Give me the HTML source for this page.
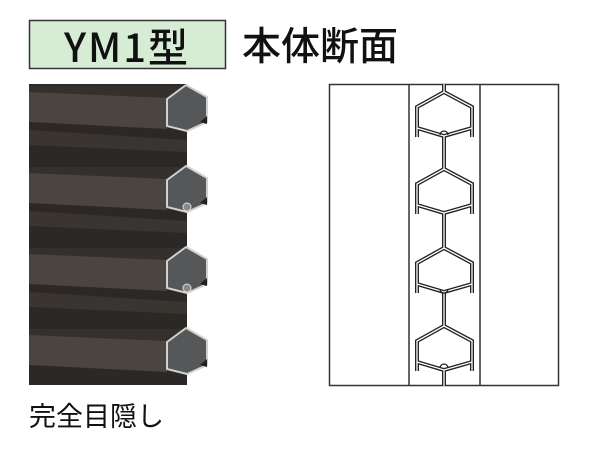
<!DOCTYPE html>
<html><head><meta charset="utf-8"><style>
html,body{margin:0;padding:0;background:#fff;}
body{width:600px;height:450px;overflow:hidden;position:relative;font-family:"Liberation Sans","Noto Sans CJK JP",sans-serif;}
</style></head><body>
<svg width="600" height="450" viewBox="0 0 600 450" xmlns="http://www.w3.org/2000/svg" style="position:absolute;left:0;top:0">
<rect x="29.5" y="20.5" width="196" height="48" fill="#d6ecd5" stroke="#333" stroke-width="1.5"/>
<text x="127" y="62" text-anchor="middle" font-family="'Noto Sans CJK JP',sans-serif" font-weight="500" font-size="40" fill="#111" letter-spacing="2">YM1型</text>
<text x="242" y="60" font-family="'Noto Sans CJK JP',sans-serif" font-size="39" font-weight="500" fill="#111">本体断面</text>
<text x="29" y="426" font-family="'Noto Sans CJK JP',sans-serif" font-size="27" fill="#111">完全目隠し</text>

<rect x="29" y="84" width="158" height="301" fill="#2c2825"/>
<g>
<g>
 <polygon points="29,86 186,86 167,98 29,92" fill="#35302c"/>
 <polygon points="29,92 167,98 167,129 29,122" fill="#4a4541"/>
 <polygon points="29,130 187,140 187,152 29,145" fill="#3a3531"/>
</g>
<g transform="translate(0,81)">
 <polygon points="29,86 186,86 167,98 29,92" fill="#35302c"/>
 <polygon points="29,92 167,98 167,129 29,122" fill="#4a4541"/>
 <polygon points="29,130 187,140 187,152 29,145" fill="#3a3531"/>
</g>
<g transform="translate(0,162)">
 <polygon points="29,86 186,86 167,98 29,92" fill="#35302c"/>
 <polygon points="29,92 167,98 167,129 29,122" fill="#4a4541"/>
 <polygon points="29,130 187,140 187,152 29,145" fill="#3a3531"/>
</g>
<g transform="translate(0,243)">
 <polygon points="29,86 186,86 167,98 29,92" fill="#35302c"/>
 <polygon points="29,92 167,98 167,129 29,122" fill="#4a4541"/>
</g>
</g>
<g fill="#555759" stroke="#d0d0d0" stroke-width="2" stroke-linejoin="round">
 <polygon points="167,99 186,85 207,97 207,122 187,131 167,126"/>
 <polygon points="167,180 186,166 207,178 207,203 187,212 167,207"/>
 <polygon points="167,261 186,247 207,259 207,284 187,293 167,288"/>
 <polygon points="167,342 186,328 207,340 207,365 187,374 167,369"/>
</g>
<g fill="#222">
 <polygon points="200,122 207,116 207,124"/>
 <polygon points="200,203 207,197 207,205"/>
 <polygon points="200,284 207,278 207,286"/>
 <polygon points="200,365 207,359 207,367"/>
</g>
<circle cx="187" cy="207" r="4" fill="#888" stroke="#ddd"/>
<circle cx="187" cy="288" r="4" fill="#888" stroke="#ddd"/>

<rect x="329.5" y="84.5" width="229" height="301" fill="none" stroke="#333" stroke-width="1.5"/>
<line x1="409" y1="84" x2="409" y2="386" stroke="#333" stroke-width="1.5"/>
<line x1="480" y1="84" x2="480" y2="386" stroke="#333" stroke-width="1.5"/>
<g fill="none" stroke-linejoin="miter">
 <g stroke="#222" stroke-width="4">
  <path d="M444,84 V92 M417,137 V107 L444,92 L472,107 V137 M417,128 L444,136 L472,128"/>
  <path d="M444,136 V169 M417,214 V184 L444,169 L472,184 V214 M417,205 L444,213 L472,205"/>
  <path d="M444,213 V248 M417,293 V263 L444,248 L472,263 V293 M417,284 L444,292 L472,284"/>
  <path d="M444,292 V326 M417,371 V341 L444,326 L472,341 V371 M417,362 L444,370 L472,362 M444,370 V386"/>
 </g>
 <g stroke="#fff" stroke-width="1.3">
  <path d="M444,84 V92 M417,137 V107 L444,92 L472,107 V137 M417,128 L444,136 L472,128"/>
  <path d="M444,136 V169 M417,214 V184 L444,169 L472,184 V214 M417,205 L444,213 L472,205"/>
  <path d="M444,213 V248 M417,293 V263 L444,248 L472,263 V293 M417,284 L444,292 L472,284"/>
  <path d="M444,292 V326 M417,371 V341 L444,326 L472,341 V371 M417,362 L444,370 L472,362 M444,370 V386"/>
 </g>
 <g stroke="#222" stroke-width="1.3">
  <path d="M440,135 A4,4 0 0 1 448,135"/>
  <path d="M440,289 A4,4 0 0 0 448,289"/>
  <path d="M440,368 A4,4 0 0 1 448,368"/>
 </g>
</g>
</svg>
</body></html>
